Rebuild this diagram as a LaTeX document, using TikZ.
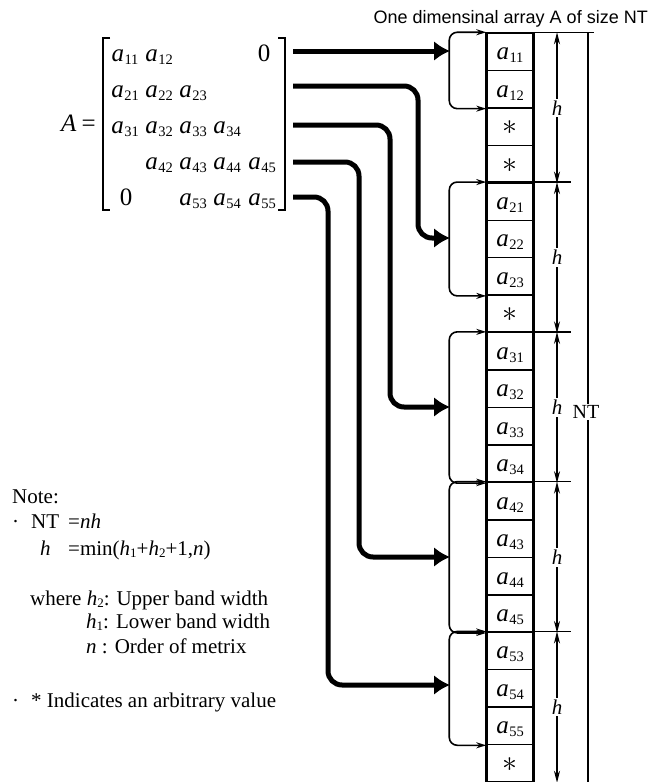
\documentclass[tikz,border=0pt]{standalone}
\usepackage{fontspec}
\setmainfont{Liberation Serif}
\newfontfamily\titlefont{Liberation Sans}
\usetikzlibrary{arrows.meta}
\newcommand{\ea}[1]{\textit{a}\kern0.5pt\raisebox{-3pt}{\fontsize{14.5}{14.5}\selectfont #1}}
\newcommand{\hsub}[2]{\textit{#1}\raisebox{-2.5pt}{\fontsize{13}{13}\selectfont #2}}
\newcommand{\ar}{\scalebox{1.2}{$\ast$}}
\begin{document}
\begin{tikzpicture}[x=1pt,y=-1pt,font=\fontsize{25}{28}\selectfont,
  cell/.style={draw,line width=1.5pt,minimum width=46pt,minimum height=37.45pt,inner sep=0pt,text height=18pt,text depth=2pt},
  ent/.style={anchor=base,inner sep=0pt},
  big/.style={line width=5pt,-{Latex[length=16pt,width=20pt]},rounded corners=14pt},
  brk/.style={line width=1.6pt,{Stealth[length=10pt,width=6pt]}-{Stealth[length=10pt,width=6pt]},rounded corners=8pt},
  dim/.style={line width=1.5pt,{Stealth[length=12pt,width=6pt]}-{Stealth[length=12pt,width=6pt]}},
  hlab/.style={fill=white,inner sep=2pt,font=\fontsize{21}{21}\selectfont\itshape},
  bline/.style={line width=1.5pt},
  note/.style={anchor=base west,inner sep=0pt,font=\fontsize{21}{25}\selectfont}]
\useasboundingbox (0,0) rectangle (653,782);

% title
\node[anchor=base east,inner sep=0pt,font=\titlefont\fontsize{18}{18}\selectfont] (title) at (648,23) {One dimensinal array A of size NT};

% matrix
\node[anchor=base west,inner sep=0pt] (Aeq) at (61,131) {\textit{A}\kern5pt=};
\draw[line width=1.2pt] (110,38) -- (103,38) -- (103,210) -- (110,210);
\draw[line width=1.2pt] (278,38) -- (285,38) -- (285,210) -- (278,210);
\node[ent] (m11) at (125,61) {\ea{11}};
\node[ent] (m12) at (159,61) {\ea{12}};
\node[ent] (z1) at (264,61) {0};
\node[ent] (m21) at (125,97) {\ea{21}};
\node[ent] (m22) at (159,97) {\ea{22}};
\node[ent] (m23) at (193,97) {\ea{23}};
\node[ent] (m31) at (125,133) {\ea{31}};
\node[ent] (m32) at (159,133) {\ea{32}};
\node[ent] (m33) at (193,133) {\ea{33}};
\node[ent] (m34) at (227,133) {\ea{34}};
\node[ent] (m42) at (159,169) {\ea{42}};
\node[ent] (m43) at (193,169) {\ea{43}};
\node[ent] (m44) at (227,169) {\ea{44}};
\node[ent] (m45) at (262,169) {\ea{45}};
\node[ent] (z2) at (126,205) {0};
\node[ent] (m53) at (193,205) {\ea{53}};
\node[ent] (m54) at (227,205) {\ea{54}};
\node[ent] (m55) at (262,205) {\ea{55}};

% array cells
\foreach \lab [count=\i from 0] in {\ea{11},\ea{12},\ar,\ar,\ea{21},\ea{22},\ea{23},\ar,\ea{31},\ea{32},\ea{33},\ea{34},\ea{42},\ea{43},\ea{44},\ea{45},\ea{53},\ea{54},\ea{55},\ar}
  \node[cell] (c\i) at (510,{33+37.45*(\i+0.5)}) {\lab};
\draw[line width=3pt] (c0.north west) -- (c19.south west);
\draw[line width=3pt] (c0.north east) -- (c19.south east);

% group boundaries
\draw[bline] (c0.north west) -- ++(108,0);
\foreach \i in {4,8,12,16} \draw[bline] (c\i.north west) -- ++(85,0);
\draw[bline] (c19.south west) -- ++(108,0);

% dimension lines
\coordinate (dx) at (557,0);
\foreach \a/\b in {0/3,4/7,8/11,12/15,16/19}
  \draw[dim] (c\a.north -| dx) -- (c\b.south -| dx) node[midway,hlab] {h};

% NT line
\coordinate (ox) at (588,0);
\draw[bline] (c0.north -| ox) -- (c19.south -| ox);
\node[fill=white,inner sep=1pt,font=\fontsize{20}{20}\selectfont] (nt) at (586,412) {NT};

% brackets
\draw[brk] (c0.north west) -- ++(-37,0) |- (c1.south west);
\draw[brk] (c4.north west) -- ++(-37,0) |- (c6.south west);
\draw[brk] (c8.north west) -- ++(-37,0) |- (c11.south west);
\draw[brk] (c12.north west) -- ++(-37,0) |- (c15.south west);
\draw[brk] (c16.north west) -- ++(-37,0) |- (c18.south west);

% thick arrows
\coordinate (r1) at (293,51);  \coordinate (t1) at (450,51);
\coordinate (r2) at (293,86);  \coordinate (t2) at (450,238);
\coordinate (r3) at (293,125); \coordinate (t3) at (450,407);
\coordinate (r4) at (293,162); \coordinate (t4) at (450,557);
\coordinate (r5) at (293,197); \coordinate (t5) at (450,685);
\draw[big] (r1) -- (t1);
\draw[big] (r2) -- (418,86) -- (418,238) -- (t2);
\draw[big] (r3) -- (390,125) -- (390,407) -- (t3);
\draw[big] (r4) -- (359,162) -- (359,557) -- (t4);
\draw[big] (r5) -- (328,197) -- (328,685) -- (t5);

% notes
\node[note] (n0) at (12,503) {Note:};
\node[note] (n1) at (12,528) {·\hspace{12pt}NT};
\node[note] (n1b) at (68,528) {=\textit{nh}};
\node[note] (n2) at (40,555) {\textit{h}};
\node[note] (n2b) at (68,555) {=min(\hsub{h}{1}+\hsub{h}{2}+1,\textit{n})};
\node[note] (n3) at (30,605) {where \hsub{h}{2}: Upper band width};
\node[note] (n4) at (86,628) {\hsub{h}{1}: Lower band width};
\node[note] (n5) at (86,653) {\textit{n} : Order of metrix};
\node[note] (n6) at (12,707) {·\hspace{12pt}* Indicates an arbitrary value};
\end{tikzpicture}
\end{document}
